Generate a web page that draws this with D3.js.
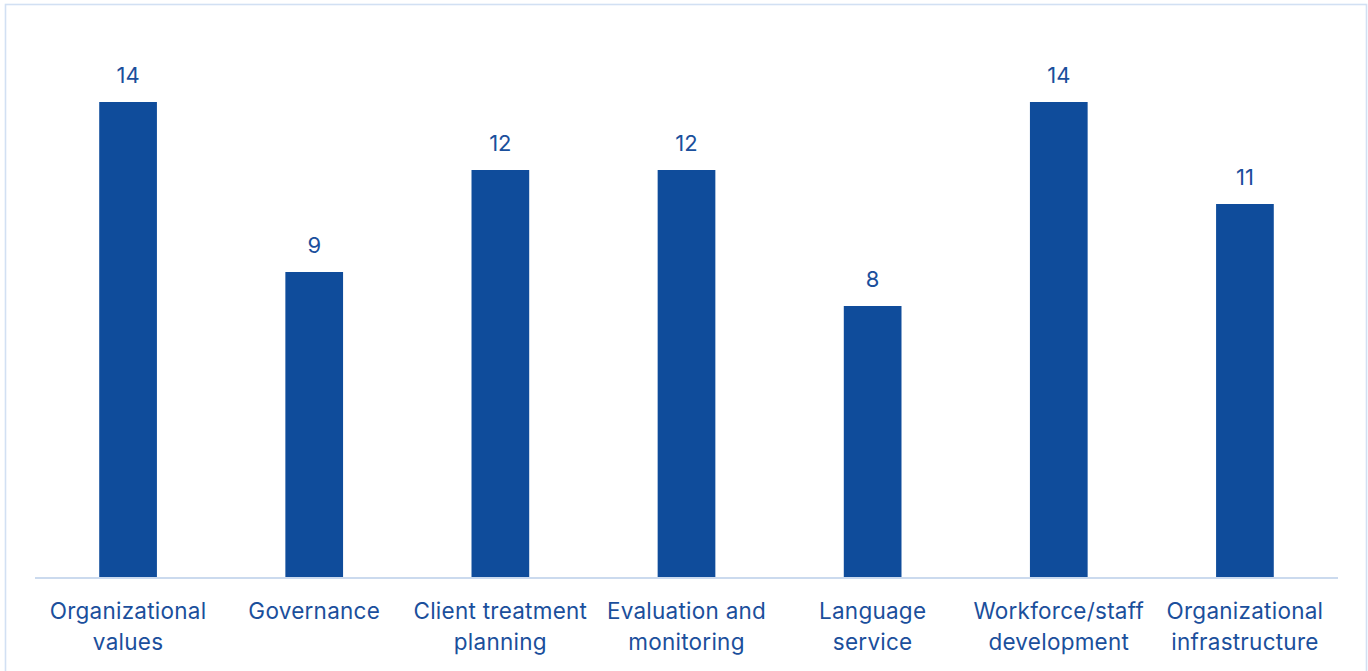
<!DOCTYPE html>
<html><head><meta charset="utf-8">
<script src="https://cdn.jsdelivr.net/npm/d3@7"></script>
<style>body{margin:0;background:#fff;}svg{display:block;}</style>
</head><body>
<script>
const categories = [["Organizational","values"],["Governance"],["Client treatment","planning"],["Evaluation and","monitoring"],["Language","service"],["Workforce/staff","development"],["Organizational","infrastructure"]];
const values = [14, 9, 12, 12, 8, 14, 11];

const W = 1368, H = 671;
const svg = d3.select("body").append("svg").attr("width", W).attr("height", H);
const font = "Inter, 'DejaVu Sans', sans-serif";
const blue = "#0f4c9b", textBlue = "#1b4f9c";

svg.append("rect").attr("x", 5.5).attr("y", 4.5).attr("width", 1361).attr("height", 700)
  .attr("fill", "#fff").attr("stroke", "#d2e0f3").attr("stroke-width", 1.6);

const keys = categories.map((c, i) => i);
const x = d3.scaleBand().domain(keys).range([35, 1338]).paddingInner(0.69).paddingOuter(0.345);
const y = d3.scaleLinear().domain([0, 14]).range([578, 102]);

svg.selectAll("rect.bar").data(values).join("rect").attr("class", "bar")
  .attr("x", (d, i) => x(i)).attr("width", x.bandwidth())
  .attr("y", d => y(d)).attr("height", d => y(0) - y(d)).attr("fill", blue);

svg.selectAll("text.val").data(values).join("text").attr("class", "val")
  .attr("x", (d, i) => x(i) + x.bandwidth() / 2).attr("y", d => y(d) - 19)
  .attr("text-anchor", "middle").attr("font-family", font).attr("font-size", 22)
  .attr("fill", textBlue).text(d => d);

const axis = d3.axisBottom(x).tickSize(0).tickFormat("");
const g = svg.append("g").attr("transform", "translate(0,578)").call(axis);
g.select(".domain").attr("stroke", "#cbdaee").attr("stroke-width", 2).attr("d", "M35,0H1338");

svg.selectAll("text.cat").data(categories).join("text").attr("class", "cat")
  .attr("text-anchor", "middle").attr("font-family", font).attr("font-size", 22.5)
  .attr("letter-spacing", 0.25)
  .attr("fill", textBlue)
  .each(function(d, i) {
    const t = d3.select(this);
    d.forEach((line, j) => {
      t.append("tspan").attr("x", x(i) + x.bandwidth() / 2).attr("y", 619 + j * 31).text(line);
    });
  });
</script>
</body></html>
